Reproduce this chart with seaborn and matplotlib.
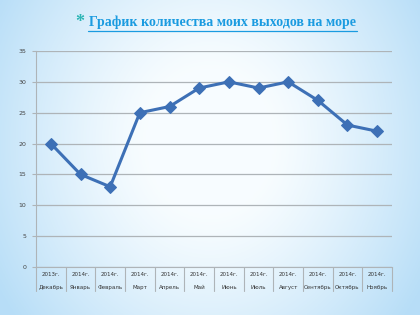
import numpy as np
import pandas as pd
import matplotlib
matplotlib.use("Agg")
import matplotlib.pyplot as plt
import seaborn as sns

years = ["2013г.", "2014г.", "2014г.", "2014г.", "2014г.", "2014г.",
         "2014г.", "2014г.", "2014г.", "2014г.", "2014г.", "2014г."]
months = ["Декабрь", "Январь", "Февраль", "Март", "Апрель", "Май",
          "Июнь", "Июль", "Август", "Сентябрь", "Октябрь", "Ноябрь"]
values = [20, 15, 13, 25, 26, 29, 30, 29, 30, 27, 23, 22]
yticks = [0, 5, 10, 15, 20, 25, 30, 35]
title = "График количества моих выходов на море"

sns.set_theme(style="white")
plt.rcParams['font.family'] = ['DejaVu Sans']

fig = plt.figure(figsize=(4.2, 3.15), dpi=100)

# background gradient
bg = fig.add_axes([0, 0, 1, 1])
yy, xx = np.mgrid[0:1:200j, 0:1:260j]
d = np.sqrt(((xx - 0.5) / 0.62) ** 2 + ((yy - 0.55) / 0.95) ** 2)
t = np.clip((d - 0.25) / 0.7, 0, 1) ** 1.2
white = np.array([0.97, 0.99, 1.0])
blue = np.array([0.72, 0.87, 0.97])
img = white[None, None, :] * (1 - t[..., None]) + blue[None, None, :] * t[..., None]
bg.imshow(img, aspect="auto", extent=[0, 1, 0, 1], origin="lower")
bg.axis("off")

grid_c = "#aeb4b8"
ax = fig.add_axes([36 / 420, 1 - 267 / 315, (392 - 36) / 420, (267 - 51) / 315])
ax.patch.set_alpha(0)
df = pd.DataFrame({"x": np.arange(len(values)), "v": values})
sns.lineplot(data=df, x="x", y="v", ax=ax, color="#3d70b6", linewidth=2.2,
             marker="D", markersize=6, markeredgecolor="#3d70b6")
ax.set_xlim(-0.5, len(values) - 0.5)
ax.set_ylim(0, 35)
ax.set_yticks(yticks)
ax.set_yticklabels([str(v) for v in yticks], fontsize=4.5, color="#444444")
ax.tick_params(axis="y", length=3, width=0.8, color=grid_c, pad=4, left=True)
ax.yaxis.grid(True, color=grid_c, linewidth=0.9)
ax.set_xticks([])
ax.set_xlabel("")
ax.set_ylabel("")
for s in ["top", "right"]:
    ax.spines[s].set_visible(False)
ax.spines["left"].set_color(grid_c)
ax.spines["bottom"].set_color(grid_c)
ax.spines["left"].set_linewidth(0.8)
ax.spines["bottom"].set_linewidth(0.8)

# category labels
trans = ax.get_xaxis_transform()
for i, (yr, mo) in enumerate(zip(years, months)):
    ax.text(i, -0.035, yr, transform=trans, ha="center", va="center",
            fontsize=4, color="#333333")
    ax.text(i, -0.095, mo, transform=trans, ha="center", va="center",
            fontsize=4, color="#333333")
for i in range(len(values) + 1):
    ax.plot([i - 0.5, i - 0.5], [0, -0.11], transform=trans, color=grid_c,
            linewidth=0.8, clip_on=False)

fig.text(0.19, 0.928, "*", fontsize=13, color="#2cb5b5", ha="center", va="center",
         family="Liberation Serif", fontweight="bold")
fig.text(0.53, 0.928, title, fontsize=10, color="#1a9be0", ha="center",
         va="center", family="Liberation Serif", fontweight="bold")
fig.add_artist(plt.Line2D([0.21, 0.85], [0.902, 0.902], color="#1a9be0",
                          linewidth=0.9, transform=fig.transFigure))

fig.savefig("out.png", dpi=100)
